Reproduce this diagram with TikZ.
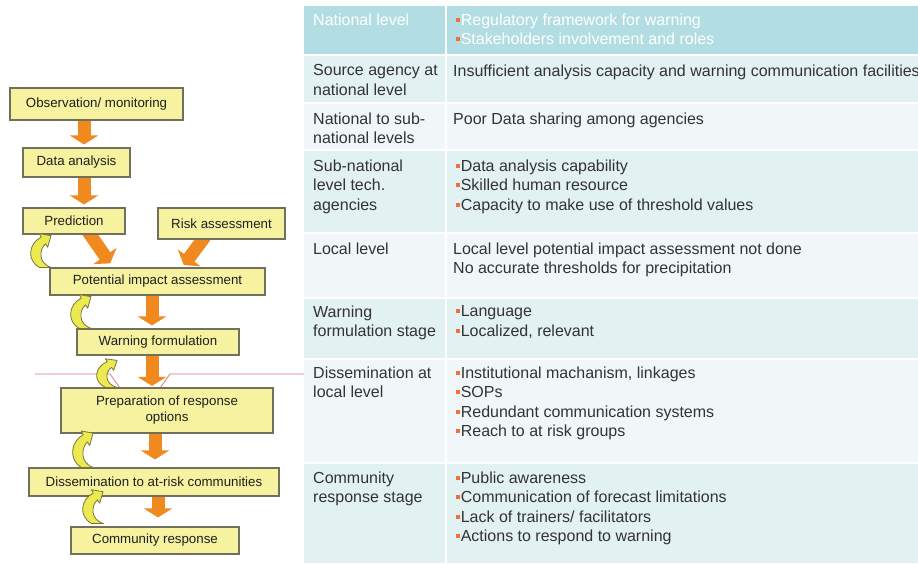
\documentclass[tikz,border=0pt]{standalone}
\usepackage{fontspec}
\setmainfont{Liberation Sans}
\usetikzlibrary{arrows.meta}
\pgfdeclarelayer{bg}
\pgfsetlayers{bg,main}
\definecolor{boxfill}{RGB}{247,242,160}
\definecolor{boxedge}{RGB}{112,112,92}
\definecolor{orng}{RGB}{240,138,30}
\definecolor{ylw}{RGB}{236,234,80}
\definecolor{ylwedge}{RGB}{120,118,60}
\definecolor{hdr}{RGB}{178,221,226}
\definecolor{rowA}{RGB}{226,241,242}
\definecolor{rowB}{RGB}{241,247,248}
\definecolor{txt}{RGB}{51,51,51}
\definecolor{bulc}{RGB}{240,112,60}
\definecolor{redl}{RGB}{214,120,130}
\newcommand\bul{\textcolor{bulc}{\rule[3.4pt]{3.8pt}{3.8pt}}\hspace{0.8pt}}
\begin{document}
\begin{tikzpicture}[x=1pt,y=-1pt,
  stage/.style={draw=boxedge, fill=boxfill, line width=1.1pt, inner sep=0pt, align=center,
    font=\fontsize{13.3}{16}\selectfont, text=black!88},
  oarrow/.style={draw=orng, line width=13pt, -{Triangle[width=28pt,length=9pt]}},
  cell/.style={anchor=north west, inner sep=0pt, align=left, text=txt,
    font=\fontsize{16}{19.5}\selectfont},
  hcell/.style={cell, text=white},
  backarrow/.pic={
    \filldraw[fill=ylw, draw=ylwedge, line width=0.8pt, line join=round]
    (0,0) .. controls (-14,-4) and (-12,-19) .. (-5.9,-23.6) -- (-3.8,-20.2)
    -- (-0.4,-31.8) -- (-12.2,-33.8) -- (-10.1,-30.4)
    .. controls (-23,-24) and (-25,-7) .. (-12,0) -- cycle;
  }]
\useasboundingbox (0,0) rectangle (918,563);

% ---------- table ----------
\fill[hdr]  (304,6)   rectangle (918,54);
\fill[rowA] (304,56)  rectangle (918,102);
\fill[rowB] (304,104) rectangle (918,149);
\fill[rowA] (304,151) rectangle (918,232);
\fill[rowB] (304,234) rectangle (918,297);
\fill[rowA] (304,299) rectangle (918,358);
\fill[rowB] (304,360) rectangle (918,462);
\fill[rowA] (304,464) rectangle (918,563);
\draw[white, line width=2pt] (446,6) -- (446,563);

\node[hcell] (h1) at (313,13.3) {National level};
\node[hcell] (h2) at (456,13.3) {\bul Regulatory framework for warning\\\bul Stakeholders involvement and roles};

\node[cell] (c21) at (313,64.3) {Source agency at\\national level};
\node[cell] (c22) at (453,64.3) {Insufficient analysis capacity and warning communication facilities};

\node[cell] (c31) at (313,112.3) {National to sub-\\national levels};
\node[cell] (c32) at (453,112.3) {Poor Data sharing among agencies};

\node[cell] (c41) at (313,159.3) {Sub-national\\level tech.\\agencies};
\node[cell] (c42) at (456,159.3) {\bul Data analysis capability\\\bul Skilled human resource\\\bul Capacity to make use of threshold values};

\node[cell] (c51) at (313,242.3) {Local level};
\node[cell] (c52) at (453,242.3) {Local level potential impact assessment not done\\No accurate thresholds for precipitation};

\node[cell] (c61) at (313,305.3) {Warning\\formulation stage};
\node[cell] (c62) at (456,305.3) {\bul Language\\\bul Localized, relevant};

\node[cell] (c71) at (313,366.3) {Dissemination at\\local level};
\node[cell] (c72) at (456,366.3) {\bul Institutional machanism, linkages\\\bul SOPs\\\bul Redundant communication systems\\\bul Reach to at risk groups};

\node[cell] (c81) at (313,471.3) {Community\\response stage};
\node[cell] (c82) at (456,471.3) {\bul Public awareness\\\bul Communication of forecast limitations\\\bul Lack of trainers/ facilitators\\\bul Actions to respond to warning};

% ---------- flowchart boxes ----------
\path
  (96.5,104)  node[stage, minimum width=173pt, minimum height=32pt] (obs)  {Observation/ monitoring}
  (76.5,162.5) node[stage, minimum width=107pt, minimum height=29pt] (data) {Data analysis}
  (74,221)    node[stage, minimum width=102pt, minimum height=26pt] (pred) {Prediction}
  (221.5,223.5) node[stage, minimum width=127pt, minimum height=31pt] (risk) {Risk assessment}
  (157.5,281.5) node[stage, minimum width=215pt, minimum height=27pt] (pot)  {Potential impact assessment}
  (158,342)   node[stage, minimum width=162pt, minimum height=26pt] (warn) {Warning formulation}
  (167,410.5) node[stage, minimum width=212pt, minimum height=45pt] (prep) {Preparation of response\\options}
  (154,482)   node[stage, minimum width=250pt, minimum height=28pt] (diss) {Dissemination to at-risk communities}
  (155,540.5) node[stage, minimum width=168pt, minimum height=27pt] (comm) {Community response};

% ---------- behind the boxes: red line and orange arrows ----------
\begin{pgfonlayer}{bg}
\fill[white] (0,0) rectangle (918,563);
\draw[redl, line width=0.8pt] (35,374) -- (110,374) -- (120,388) -- (160,388) -- (170,374) -- (304,374);
\draw[oarrow, shorten >=3pt] ([xshift=-12.5pt]obs.south) -- ([xshift=7.5pt]data.north);
\draw[oarrow, shorten >=3pt] ([xshift=7.5pt]data.south) -- ([xshift=10pt]pred.north);
\draw[oarrow, shorten >=5pt] ([xshift=14pt,yshift=3pt]pred.south) -- ([xshift=-44.5pt]pot.north);
\draw[oarrow, shorten >=3pt] ([xshift=-16.5pt,yshift=3pt]risk.south) -- ([xshift=24.5pt]pot.north);
\draw[oarrow, shorten >=3pt] ([xshift=-5.5pt]pot.south) -- ([xshift=-6pt]warn.north);
\draw[oarrow, shorten >=1.5pt] ([xshift=-6pt]warn.south) -- ([xshift=-15pt]prep.north);
\draw[oarrow, shorten >=8pt] ([xshift=-12pt]prep.south) -- ([xshift=1pt]diss.north);
\draw[oarrow, shorten >=9pt] ([xshift=4pt]diss.south) -- ([xshift=3pt]comm.north);
\end{pgfonlayer}

% ---------- curved feedback arrows ----------
\pic at ([xshift=2pt]pot.north west) {backarrow};
\pic at ([xshift=15pt]warn.north west) {backarrow};
\pic[yscale=0.85] at ([xshift=57pt]prep.north west) {backarrow};
\pic[yscale=1.08] at ([xshift=65pt]diss.north west) {backarrow};
\pic at ([xshift=33pt,yshift=3pt]comm.north west) {backarrow};
\end{tikzpicture}
\end{document}
